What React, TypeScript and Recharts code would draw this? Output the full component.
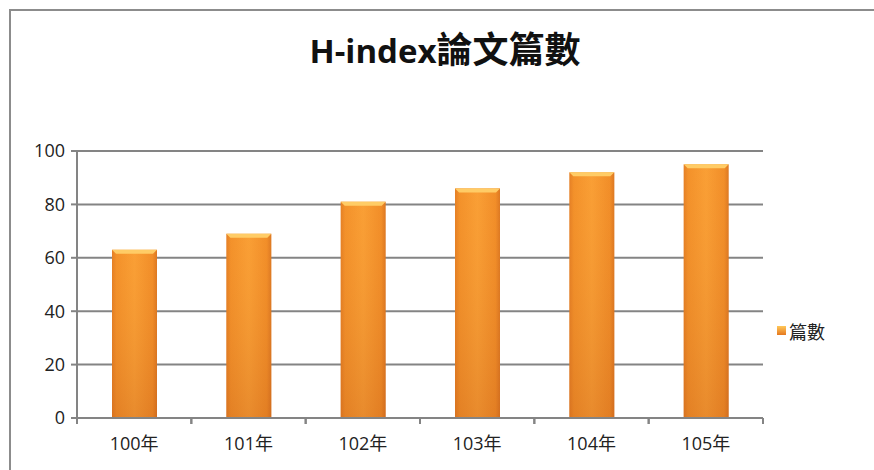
import React from 'react'
import {
  BarChart,
  Bar,
  XAxis,
  YAxis,
  CartesianGrid,
} from 'recharts'

const years = ['100年', '101年', '102年', '103年', '104年', '105年']
const counts = [63, 69, 81, 86, 92, 95]
const yTicks = [0, 20, 40, 60, 80, 100]
const seriesName = '篇數'

const data = years.map((year, i) => ({ year, count: counts[i] }))

const font = '"Open Sans", "Noto Sans CJK TC", sans-serif'
const axisGray = '#848484'
const labelGap = 18

// Excel-ish bevelled orange bar
const BevelBar = (props: any) => {
  const { x, y, width, height } = props
  if (!height || height <= 0) return null
  const b = Math.min(4, height / 2)
  return (
    <g>
      <rect x={x} y={y} width={width} height={height} fill="url(#barH)" />
      <rect x={x} y={y} width={width} height={height} fill="url(#barV)" />
      <path
        d={`M${x},${y} L${x + width},${y} L${x + width - b},${y + b} L${x + b},${y + b} Z`}
        fill="#ffcc66"
      />
    </g>
  )
}

// category label plus tick marks on the band edges, like Excel
const YearTick = (props: any) => {
  const { x, y, payload } = props
  const half = payload?.offset ?? 0
  const axisY = y - labelGap
  return (
    <g>
      <line x1={x - half} x2={x - half} y1={axisY} y2={axisY + 6} stroke={axisGray} strokeWidth={2} />
      <line x1={x + half} x2={x + half} y1={axisY} y2={axisY + 6} stroke={axisGray} strokeWidth={2} />
      <text x={x} y={y} dy="0.8em" textAnchor="middle" fill="#222" fontSize={18} fontFamily={font}>
        {payload.value}
      </text>
    </g>
  )
}

const LegendBox = () => (
  <div
    style={{
      position: 'absolute',
      left: 777,
      top: 318,
      display: 'flex',
      alignItems: 'center',
    }}
  >
    <svg width={10} height={10} style={{ marginRight: 2 }}>
      <defs>
        <linearGradient id="legendG" x1="0" y1="0" x2="0" y2="1">
          <stop offset="0%" stopColor="#ffc85a" />
          <stop offset="100%" stopColor="#e5781f" />
        </linearGradient>
      </defs>
      <rect x={0} y={0} width={9} height={9} fill="url(#legendG)" />
    </svg>
    <span style={{ fontSize: 18, color: '#222', fontFamily: '"Noto Sans CJK TC", sans-serif' }}>
      {seriesName}
    </span>
  </div>
)

export default function App() {
  return (
    <div
      style={{
        position: 'fixed',
        left: 0,
        top: 0,
        width: 874,
        height: 470,
        background: '#fff',
        overflow: 'hidden',
        fontFamily: font,
      }}
    >
      <div
        style={{
          position: 'absolute',
          left: 9,
          top: 9,
          width: 900,
          height: 500,
          borderLeft: '2px solid #8c8c8c',
          borderTop: '2px solid #8c8c8c',
        }}
      />
      <div
        style={{
          position: 'absolute',
          left: 0,
          top: 27,
          width: 890,
          textAlign: 'center',
          fontSize: 33,
          lineHeight: '46px',
          fontWeight: 700,
          color: '#111',
          fontFamily: font,
        }}
      >
        H-index<span style={{ fontSize: 36 }}>論文篇數</span>
      </div>
      <BarChart
        width={874}
        height={470}
        data={data}
        margin={{ top: 151, right: 111, bottom: 12, left: 17 }}
        barCategoryGap={0}
        style={{ position: 'absolute', left: 0, top: 0 }}
      >
        <defs>
          <linearGradient id="barH" x1="0" y1="0" x2="1" y2="0">
            <stop offset="0%" stopColor="#e27a22" />
            <stop offset="10%" stopColor="#f28e28" />
            <stop offset="50%" stopColor="#f99d34" />
            <stop offset="90%" stopColor="#f08a26" />
            <stop offset="100%" stopColor="#d9721f" />
          </linearGradient>
          <linearGradient id="barV" x1="0" y1="0" x2="0" y2="1">
            <stop offset="0%" stopColor="#ffb040" stopOpacity={0.1} />
            <stop offset="100%" stopColor="#c0601c" stopOpacity={0.3} />
          </linearGradient>
        </defs>
        <CartesianGrid
          vertical={false}
          stroke={axisGray}
          strokeWidth={2}
          yAxisId="v"
        />
        <XAxis
          dataKey="year"
          axisLine={{ stroke: axisGray, strokeWidth: 2 }}
          tickLine={false}
          tickSize={0}
          tickMargin={labelGap}
          tick={YearTick}
          interval={0}
          height={40}
        />
        <YAxis
          yAxisId="v"
          domain={[0, 100]}
          ticks={yTicks}
          axisLine={{ stroke: axisGray, strokeWidth: 2 }}
          tickLine={{ stroke: axisGray, strokeWidth: 2 }}
          tickSize={6}
          tick={{ fill: '#222', fontSize: 18, fontFamily: font }}
          tickMargin={6}
          width={60}
        />
        <Bar
          yAxisId="v"
          dataKey="count"
          name={seriesName}
          barSize={45}
          shape={BevelBar}
          isAnimationActive={false}
        />
      </BarChart>
      <LegendBox />
    </div>
  )
}
